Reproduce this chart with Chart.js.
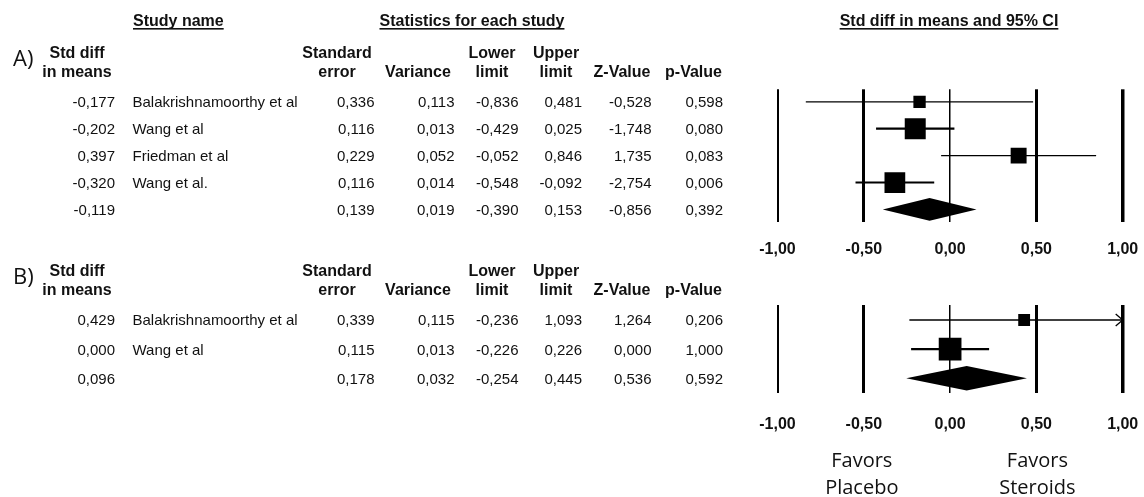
<!DOCTYPE html>
<html>
<head>
<meta charset="utf-8">
<title>Forest plot: steroids vs placebo</title>
<script src="https://cdn.jsdelivr.net/npm/chart.js@4.4.1/dist/chart.umd.min.js"></script>
<style>
  html, body { margin: 0; padding: 0; background: #fff; }
  #wrap { position: relative; width: 1144px; height: 497px; overflow: hidden; }
  #wrap canvas { position: absolute; left: 0; }
  #panelA { top: 0; }
  #panelB { top: 262px; }
</style>
</head>
<body>
<div id="wrap">
  <canvas id="panelA" width="1144" height="262"></canvas>
  <canvas id="panelB" width="1144" height="235"></canvas>
</div>
<script>
// ---- Panel A: four studies + pooled row (last entry of each numeric array) ----
const studyA  = ['Balakrishnamoorthy et al', 'Wang et al', 'Friedman et al', 'Wang et al.'];
const smdA    = [-0.177, -0.202, 0.397, -0.320, -0.119];
const seA     = [0.336, 0.116, 0.229, 0.116, 0.139];
const varA    = [0.113, 0.013, 0.052, 0.014, 0.019];
const lowerA  = [-0.836, -0.429, -0.052, -0.548, -0.390];
const upperA  = [0.481, 0.025, 0.846, -0.092, 0.153];
const zA      = [-0.528, -1.748, 1.735, -2.754, -0.856];
const pA      = [0.598, 0.080, 0.083, 0.006, 0.392];
const weightA = [11.9, 34.5, 19.9, 33.7];   // relative weights (%), random effects

// ---- Panel B: two studies + pooled row ----
const studyB  = ['Balakrishnamoorthy et al', 'Wang et al'];
const smdB    = [0.429, 0.000, 0.096];
const seB     = [0.339, 0.115, 0.178];
const varB    = [0.115, 0.013, 0.032];
const lowerB  = [-0.236, -0.226, -0.254];
const upperB  = [1.093, 0.226, 0.445];
const zB      = [1.264, 0.000, 0.536];
const pB      = [0.206, 1.000, 0.592];
const weightB = [21.3, 78.7];

// ---- Axis ----
const xTicks = [-1, -0.5, 0, 0.5, 1];
const favorsLeft  = ['Favors', 'Placebo'];
const favorsRight = ['Favors', 'Steroids'];

// ---- Styling ----
const INK = '#111';
const SANS = '"Liberation Sans", Arial, sans-serif';
const HUMAN = '"Open Sans", sans-serif';
const F_DATA = '15px ' + SANS;
const F_HEAD = 'bold 16px ' + SANS;
const F_LETTER = '22px ' + HUMAN;
const F_FAVORS = '20px ' + HUMAN;
const gridWidth = { '-1': 2, '-0.5': 3, '0': 1.5, '0.5': 3, '1': 3.5 };

const fmt3 = v => v.toFixed(3).replace('.', ',');
const fmt2 = v => v.toFixed(2).replace('.', ',');

function txt(ctx, s, x, y, font, align) {
  ctx.font = font;
  ctx.textAlign = align || 'left';
  ctx.textBaseline = 'alphabetic';
  ctx.fillStyle = INK;
  ctx.fillText(s, x, y);
}
function underlinedTxt(ctx, s, x, y, font, align) {
  txt(ctx, s, x, y, font, align);
  const w = ctx.measureText(s).width;
  const x0 = align === 'center' ? x - w / 2 : x;
  ctx.fillRect(x0, y + 2.5, w, 1.6);
}

// table column anchors (right edges for numbers, left edge for study names)
const COL = { smd: 115, study: 132.5, se: 374.5, variance: 454.5, lower: 518.5, upper: 582, z: 651.5, p: 723 };

function rowPitch(chart) {
  const y = chart.scales.y;
  return Math.abs(y.getPixelForValue(1) - y.getPixelForValue(0));
}

function makePanel(canvasId, P) {
  const n = P.study.length;
  const maxW = Math.max(...P.weight);

  const datasets = [{
    label: 'Study estimates',
    data: P.study.map((s, i) => ({ x: P.smd[i], y: i })),
    pointStyle: 'rect',
    backgroundColor: '#000',
    borderColor: '#000',
    borderWidth: 0,
    pointRadius: ctx => {
      if (ctx.dataIndex === undefined) return 0;
      const side = 0.78 * rowPitch(ctx.chart) * Math.sqrt(P.weight[ctx.dataIndex] / maxW);
      return side / Math.SQRT2;
    },
    order: 0
  }];
  P.study.forEach((s, i) => {
    datasets.push({
      label: s + ' 95% CI',
      data: [{ x: P.lower[i], y: i }, { x: P.upper[i], y: i }],
      showLine: true,
      pointRadius: 0,
      borderColor: '#000',
      borderWidth: P.weight[i] > 30 ? 2.2 : 1.3,
      order: 1
    });
  });

  const tablePlugin = {
    id: 'studyTable',
    afterDraw(chart) {
      const ctx = chart.ctx;
      const y = chart.scales.y;
      const row0 = y.getPixelForValue(0);
      ctx.save();
      if (P.sectionHeads) {
        underlinedTxt(ctx, 'Study name', 133, 25.5, F_HEAD, 'left');
        underlinedTxt(ctx, 'Statistics for each study', 379.5, 25.5, F_HEAD, 'left');
        underlinedTxt(ctx, 'Std diff in means and 95% CI', 949, 25.5, F_HEAD, 'center');
      }
      txt(ctx, P.letter, 13, row0 - 36, F_LETTER, 'left');
      const h1 = row0 - 44, h2 = row0 - 25;
      txt(ctx, 'Std diff', 77, h1, F_HEAD, 'center');
      txt(ctx, 'in means', 77, h2, F_HEAD, 'center');
      txt(ctx, 'Standard', 337, h1, F_HEAD, 'center');
      txt(ctx, 'error', 337, h2, F_HEAD, 'center');
      txt(ctx, 'Variance', 418, h2, F_HEAD, 'center');
      txt(ctx, 'Lower', 492, h1, F_HEAD, 'center');
      txt(ctx, 'limit', 492, h2, F_HEAD, 'center');
      txt(ctx, 'Upper', 556, h1, F_HEAD, 'center');
      txt(ctx, 'limit', 556, h2, F_HEAD, 'center');
      txt(ctx, 'Z-Value', 622, h2, F_HEAD, 'center');
      txt(ctx, 'p-Value', 693.5, h2, F_HEAD, 'center');

      P.smd.forEach((v, i) => {
        const by = y.getPixelForValue(i) + 5.4;
        txt(ctx, fmt3(v), COL.smd, by, F_DATA, 'right');
        if (i < n) txt(ctx, P.study[i], COL.study, by, F_DATA, 'left');
        txt(ctx, fmt3(P.se[i]), COL.se, by, F_DATA, 'right');
        txt(ctx, fmt3(P.variance[i]), COL.variance, by, F_DATA, 'right');
        txt(ctx, fmt3(P.lower[i]), COL.lower, by, F_DATA, 'right');
        txt(ctx, fmt3(P.upper[i]), COL.upper, by, F_DATA, 'right');
        txt(ctx, fmt3(P.z[i]), COL.z, by, F_DATA, 'right');
        txt(ctx, fmt3(P.p[i]), COL.p, by, F_DATA, 'right');
      });

      if (P.favors) {
        const x = chart.scales.x;
        const xl = x.getPixelForValue(-0.5), xr = x.getPixelForValue(0.5);
        P.favors.left.forEach((s, k) => txt(ctx, s, xl - 2, 204.7 + k * 27.3, F_FAVORS, 'center'));
        P.favors.right.forEach((s, k) => txt(ctx, s, xr + 1, 204.7 + k * 27.3, F_FAVORS, 'center'));
      }
      ctx.restore();
    }
  };

  // pooled estimate diamond + arrows for intervals running off the axis
  const summaryPlugin = {
    id: 'pooledDiamond',
    afterDatasetsDraw(chart) {
      const ctx = chart.ctx, x = chart.scales.x, y = chart.scales.y;
      const half = 0.84 * rowPitch(chart) / 2;
      const yc = y.getPixelForValue(n);
      ctx.save();
      ctx.fillStyle = '#000';
      ctx.beginPath();
      ctx.moveTo(x.getPixelForValue(P.lower[n]), yc);
      ctx.lineTo(x.getPixelForValue(P.smd[n]), yc - half);
      ctx.lineTo(x.getPixelForValue(P.upper[n]), yc);
      ctx.lineTo(x.getPixelForValue(P.smd[n]), yc + half);
      ctx.closePath();
      ctx.fill();
      ctx.strokeStyle = '#000';
      ctx.lineWidth = 1.3;
      for (let i = 0; i < n; i++) {
        if (P.upper[i] > x.max) {
          const yi = y.getPixelForValue(i), xe = x.right;
          ctx.beginPath();
          ctx.moveTo(xe - 7, yi - 6);
          ctx.lineTo(xe, yi);
          ctx.lineTo(xe - 7, yi + 6);
          ctx.stroke();
        }
      }
      ctx.restore();
    }
  };

  return new Chart(document.getElementById(canvasId), {
    type: 'scatter',
    data: { datasets },
    plugins: [summaryPlugin, tablePlugin],
    options: {
      responsive: false,
      animation: false,
      devicePixelRatio: 1,
      events: [],
      layout: { padding: P.padding },
      plugins: { legend: { display: false }, tooltip: { enabled: false } },
      scales: {
        x: {
          type: 'linear',
          min: -1, max: 1,
          position: 'bottom',
          afterBuildTicks: s => { s.ticks = xTicks.map(v => ({ value: v })); },
          afterFit: s => { s.height = P.axisHeight; s.paddingLeft = 0; s.paddingRight = 0; },
          border: { display: false },
          grid: {
            color: '#000',
            drawTicks: true,
            tickLength: P.tickGap,
            tickColor: 'rgba(0,0,0,0)',
            lineWidth: ctx => gridWidth[String(ctx.tick ? ctx.tick.value : 0)] || 1
          },
          ticks: {
            padding: 0,
            autoSkip: false,
            maxRotation: 0,
            color: INK,
            font: { family: SANS, size: 16, weight: 'bold' },
            callback: v => fmt2(v)
          }
        },
        y: { type: 'linear', display: false, reverse: true, min: P.yMin, max: P.yMax }
      }
    }
  });
}

makePanel('panelA', {
  letter: 'A)', sectionHeads: true,
  study: studyA, smd: smdA, se: seA, variance: varA, lower: lowerA, upper: upperA, z: zA, p: pA, weight: weightA,
  padding: { top: 89.3, left: 777.5, right: 21.3, bottom: 0.3 },
  axisHeight: 40, tickGap: 18, yMin: -0.465, yMax: 4.457
});

makePanel('panelB', {
  letter: 'B)',
  study: studyB, smd: smdB, se: seB, variance: varB, lower: lowerB, upper: upperB, z: zB, p: pB, weight: weightB,
  favors: { left: favorsLeft, right: favorsRight },
  padding: { top: 43, left: 777.5, right: 21.3, bottom: 43.7 },
  axisHeight: 60, tickGap: 22, yMin: -0.515, yMax: 2.515
});
</script>
</body>
</html>
